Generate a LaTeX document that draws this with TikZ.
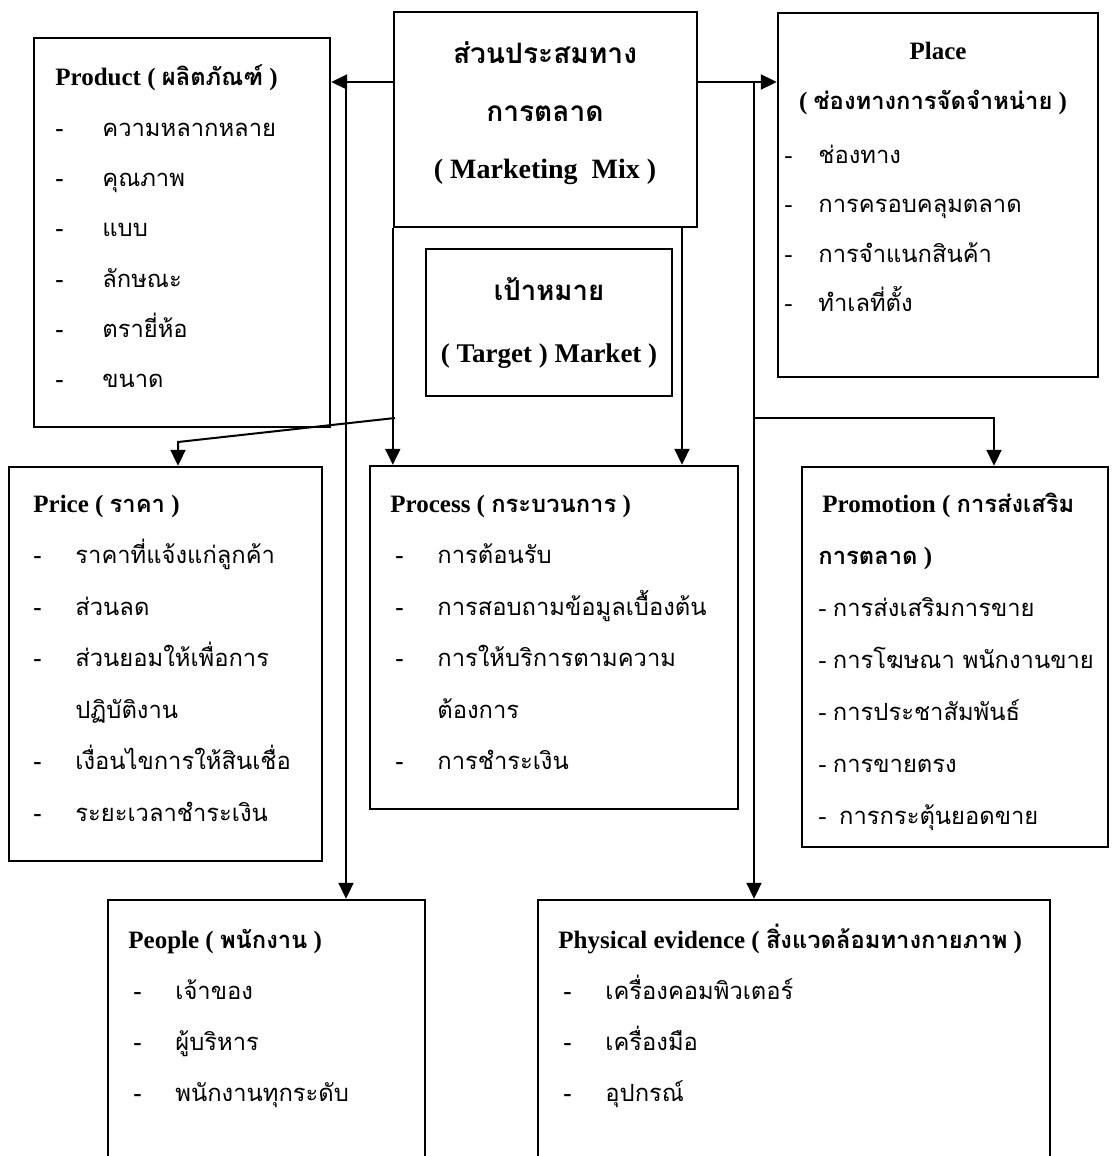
\documentclass[tikz,border=0pt]{standalone}
\usepackage{fontspec}
\setmainfont{Liberation Serif}
\newfontfamily\thaifont[Script=Thai,Scale=0.95]{Loma}
\usetikzlibrary{arrows.meta,positioning,fit}
\newcommand{\tha}[1]{{\thaifont #1}}

\begin{document}
\begin{tikzpicture}[x=0.5pt, y=-0.5pt,
  box/.style={rectangle, draw, line width=1.2pt, inner sep=0pt},
  txt/.style={anchor=base west, inner sep=0pt, font=\fontsize{12.5}{14}\selectfont},
  head/.style={txt, font=\fontsize{12.5}{14}\selectfont\bfseries},
  midhead/.style={anchor=base, inner sep=0pt, font=\fontsize{12.5}{14}\selectfont\bfseries},
  bighead/.style={anchor=base, inner sep=0pt, font=\fontsize{#1}{16}\selectfont\bfseries},
  bighead/.default=14,
  dashmark/.style={txt, font=\fontsize{12.5}{14}\selectfont\bfseries},
  arr/.style={-{Triangle[length=8pt, width=7.5pt]}, line width=1pt}
]
  \useasboundingbox (0,0) rectangle (1113,1156);
  \clip (0,0) rectangle (1113,1156);

  % boxes
  \node[box, fit={(394,12) (697,227)}]   (mix) {};
  \node[box, fit={(426,249) (672,396)}]  (target) {};
  \node[box, fit={(34,38) (330,427)}]    (product) {};
  \node[box, fit={(778,13) (1098,377)}]  (place) {};
  \node[box, fit={(9,467) (322,861)}]    (price) {};
  \node[box, fit={(370,466) (738,809)}]  (process) {};
  \node[box, fit={(802,467) (1108,847)}] (promotion) {};
  \node[box, fit={(108,900) (425,1170)}] (people) {};
  \node[box, fit={(538,900) (1050,1170)}] (physical) {};

  % marketing mix + target
  \node[bighead=14.8] (mixA) at (545,64)  {\tha{ส่วนประสมทาง}};
  \node[bighead=14.8] (mixB) at (545,121) {\tha{การตลาด}};
  \node[bighead] (mixC) at (545,178) {( Marketing~~Mix )};
  \node[bighead=14.5] (tgA)  at (549,300) {\tha{เป้าหมาย}};
  \node[bighead=13.5] (tgB)  at (549,362) {( Target ) Market )};

  % connectors
  \coordinate (ytop) at (0,82);
  \coordinate (pj) at (346,82);
  \coordinate (qj) at (754,82);
  \coordinate (mx) at (682,0);
  \coordinate (lv) at (395,418);
  \coordinate (pk) at (178,442);
  \coordinate (rv) at (754,418);
  \coordinate (rk) at (994,418);
  \draw[arr] (mix.west |- ytop) -- (product.east |- ytop);
  \draw[arr] (mix.east |- ytop) -- (place.west |- ytop);
  \draw[arr] (pj) -- (pj |- people.north);
  \draw[arr] (qj) -- (qj |- physical.north);
  \draw[arr] (mix.south -| mx) -- (process.north -| mx);
  \draw[arr] (mix.south west) -- (mix.south west |- process.north);
  \draw[arr] (lv) -- (pk) -- (pk |- price.north);
  \draw[arr] (rv) -- (rk) -- (rk |- promotion.north);

  % product
  \node[head] (prodT) at (55,86) {Product ( \tha{ผลิตภัณฑ์} )};
  \foreach \i/\w in {1/ความหลากหลาย, 2/คุณภาพ, 3/แบบ, 4/ลักษณะ, 5/ตรายี่ห้อ, 6/ขนาด}{
    \node[dashmark] (prodD\i) at (55,86+\i*50.3) {-};
    \node[txt] (prodI\i) at (102,86+\i*50.3) {\tha{\w}};
  }

  % place
  \node[midhead] (placeT) at (938,60) {Place};
  \node[midhead] (placeS) at (933,110) {( \tha{ช่องทางการจัดจำหน่าย} )};
  \foreach \i/\w in {0/ช่องทาง, 1/การครอบคลุมตลาด, 2/การจำแนกสินค้า, 3/ทำเลที่ตั้ง}{
    \node[txt] (placeD\i) at (784,163+\i*49.5) {-};
    \node[txt] (placeI\i) at (818,163+\i*49.5) {\tha{\w}};
  }

  % price
  \node[head] (priceT) at (33,512) {Price ( \tha{ราคา} )};
  \foreach \i/\w in {1/ราคาที่แจ้งแก่ลูกค้า, 2/ส่วนลด, 3/ส่วนยอมให้เพื่อการ, 5/เงื่อนไขการให้สินเชื่อ, 6/ระยะเวลาชำระเงิน}{
    \node[dashmark] (priceD\i) at (33,512+\i*51.5) {-};
    \node[txt] (priceI\i) at (75,512+\i*51.5) {\tha{\w}};
  }
  \node[txt] (priceI4) at (75,718) {\tha{ปฏิบัติงาน}};

  % process
  \node[head] (procT) at (390,512) {Process ( \tha{กระบวนการ} )};
  \foreach \i/\w in {1/การต้อนรับ, 2/การสอบถามข้อมูลเบื้องต้น, 3/การให้บริการตามความ, 5/การชำระเงิน}{
    \node[dashmark] (procD\i) at (395,512+\i*51.5) {-};
    \node[txt] (procI\i) at (437,512+\i*51.5) {\tha{\w}};
  }
  \node[txt] (procI4) at (437,718) {\tha{ต้องการ}};

  % promotion
  \node[head] (promT) at (822,512) {Promotion ( \tha{การส่งเสริม}};
  \node[head] (promS) at (818,564) {\tha{การตลาด} )};
  \foreach \i/\w in {2/การส่งเสริมการขาย, 3/การโฆษณา พนักงานขาย, 4/การประชาสัมพันธ์, 5/การขายตรง}{
    \node[txt] (promI\i) at (818,512+\i*52) {- \tha{\w}};
  }
  \node[txt] (promI6) at (818,824) {-~~\tha{การกระตุ้นยอดขาย}};

  % people
  \node[head] (peopT) at (128,948) {People ( \tha{พนักงาน} )};
  \foreach \i/\w in {1/เจ้าของ, 2/ผู้บริหาร, 3/พนักงานทุกระดับ}{
    \node[dashmark] (peopD\i) at (133,948+\i*51) {-};
    \node[txt] (peopI\i) at (175,948+\i*51) {\tha{\w}};
  }

  % physical evidence
  \node[head] (physT) at (558,948) {Physical evidence ( \tha{สิ่งแวดล้อมทางกายภาพ} )};
  \foreach \i/\w in {1/เครื่องคอมพิวเตอร์, 2/เครื่องมือ, 3/อุปกรณ์}{
    \node[dashmark] (physD\i) at (563,948+\i*51) {-};
    \node[txt] (physI\i) at (605,948+\i*51) {\tha{\w}};
  }
\end{tikzpicture}
\end{document}
